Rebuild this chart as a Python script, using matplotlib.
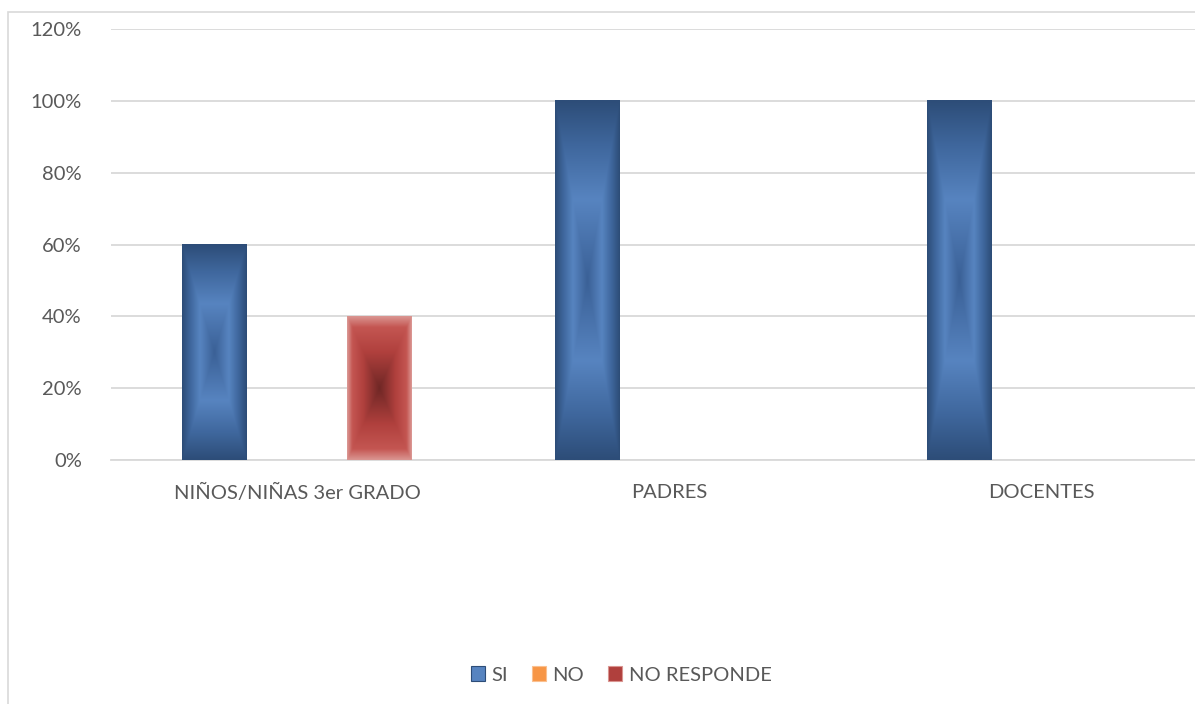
import matplotlib
matplotlib.use("Agg")
import matplotlib.pyplot as plt
import matplotlib.patches as mpatches
import numpy as np

# data
categories = ["NIÑOS/NIÑAS 3er GRADO", "PADRES", "DOCENTES"]
series_names = ["SI", "NO", "NO RESPONDE"]
si_values = [0.60, 1.00, 1.00]
no_values = [0.0, 0.0, 0.0]
no_responde_values = [0.40, 0.0, 0.0]
y_ticks = [0, 0.2, 0.4, 0.6, 0.8, 1.0, 1.2]

text_color = "#595959"
grid_color = "#D9D9D9"
plt.rcParams['font.family'] = ['Lato', 'DejaVu Sans']

# gradient stops: t=0 centre, t=1 edge (Excel "from center" rectangular fill)
blue_stops = ([0.0, 0.45, 0.75, 1.0],
              ["#3A6096", "#5784C0", "#3F679D", "#2D4D78"])
orange_stops = ([0.0, 0.5, 1.0], ["#E46C0A", "#F79646", "#FAC090"])
red_stops = ([0.0, 0.5, 0.85, 1.0],
             ["#6F2725", "#B0403D", "#C45652", "#DA9591"])


def hex_rgb(h):
    return np.array([int(h[i:i + 2], 16) / 255 for i in (1, 3, 5)])


def gradient_img(stops, nx=60, ny=200):
    pos, cols = stops
    cols = np.array([hex_rgb(c) for c in cols])
    u = np.linspace(-1, 1, nx)
    v = np.linspace(-1, 1, ny)
    U, V = np.meshgrid(u, v)
    t = np.maximum(np.abs(U), np.abs(V))
    img = np.zeros((ny, nx, 3))
    for k in range(3):
        img[..., k] = np.interp(t, pos, cols[:, k])
    return img


fig = plt.figure(figsize=(11.95, 7.04), dpi=100)
ax = fig.add_axes([111 / 1195, 1 - 460 / 704, (1228 - 111) / 1195, 431 / 704])

x = np.arange(len(categories))
bar_w = 0.1745
offset = 0.2215
all_series = [si_values, no_values, no_responde_values]
all_stops = [blue_stops, orange_stops, red_stops]

for i, (vals, stops) in enumerate(zip(all_series, all_stops)):
    xs = x + (i - 1) * offset
    bars = ax.bar(xs, vals, width=bar_w, color="none", edgecolor="none", zorder=3)
    for b in bars:
        h = b.get_height()
        if h <= 0:
            continue
        x0 = b.get_x()
        ax.imshow(gradient_img(stops), extent=[x0, x0 + bar_w, 0, h],
                  aspect="auto", origin="lower", zorder=3, interpolation="bilinear")

ax.set_xlim(-0.5, 2.5)
ax.set_ylim(0, 1.2)
ax.set_yticks(y_ticks)
ax.set_yticklabels([f"{int(round(t * 100))}%" for t in y_ticks])
ax.set_xticks(x)
ax.set_xticklabels(categories)
ax.tick_params(axis="both", length=0, labelsize=14.5, colors=text_color)
ax.tick_params(axis="y", pad=21)
ax.tick_params(axis="x", pad=17)
ax.yaxis.grid(True, color=grid_color, linewidth=1.3, zorder=0)
ax.set_axisbelow(True)
for s in ["top", "right", "left"]:
    ax.spines[s].set_visible(False)
ax.spines["bottom"].set_color(grid_color)
ax.spines["bottom"].set_linewidth(1.3)

# outer chart border
fig.patches.append(mpatches.Rectangle((8 / 1195, -0.05), 1.2, 1 - 12 / 704 + 0.05,
                                      transform=fig.transFigure, fill=False,
                                      edgecolor=grid_color, linewidth=1.2))

handles = [mpatches.Patch(facecolor=st[1][1], edgecolor=st[1][-1], linewidth=0.8)
           for st in all_stops]
fig.legend(handles, series_names, loc="center", bbox_to_anchor=(0.52, 1 - 675 / 704),
           ncol=3, frameon=False, fontsize=14.5, labelcolor=text_color,
           handlelength=0.7, handleheight=0.7, handletextpad=0.3, columnspacing=1.2)

fig.savefig("out.png", dpi=100)
